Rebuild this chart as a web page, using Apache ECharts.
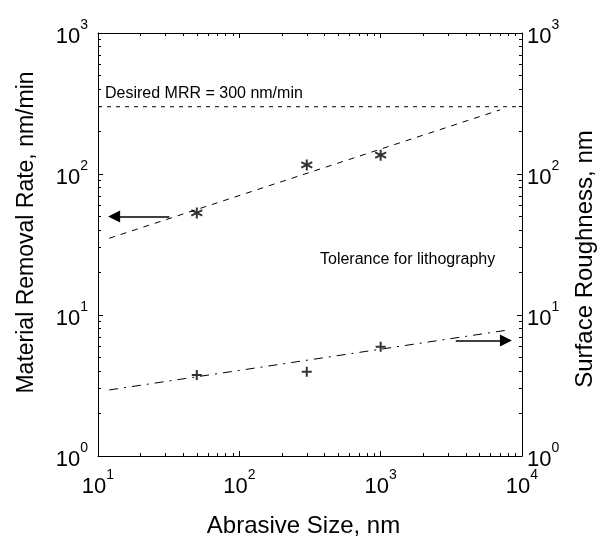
<!DOCTYPE html>
<html><head><meta charset="utf-8">
<script src="https://cdn.jsdelivr.net/npm/echarts@6/dist/echarts.min.js"></script>
<style>html,body{margin:0;padding:0;background:#fff}#c{width:605px;height:539px}</style>
</head><body><div id="c"></div>
<script>
// ---- data ----
const abrasiveSize = [50, 300, 1000];          // nm
const mrrValues = [53, 116, 136];              // nm/min (asterisks)
const roughnessValues = [3.75, 3.96, 5.96];    // nm (plus signs)
const mrrFitX = [12, 7000];
const mrrFitY = [35, 285];
const roughFitX = [12, 7800];
const roughFitY = [2.94, 7.8];
const desiredX = [10, 10000];
const desiredY = [300, 300];
const mrrArrowX = [32, 13];
const mrrArrowY = [50, 50];
const roughArrowX = [3400, 7700];
const roughArrowY = [6.6, 6.6];
const tickExponents = ['0', '1', '2', '3', '4'];
const xDecades = [10, 100, 1000];
const yDecades = [1, 10, 100];
const minorFactors = [2, 3, 4, 5, 6, 7, 8, 9];

const FONT = 'Arial, "Liberation Sans", sans-serif';
const pairs = (xs, ys) => xs.map((x, i) => [x, ys[i]]);
const minorOf = decs => decs.flatMap(d => minorFactors.map(f => d * f));
const xMinor = minorOf(xDecades);
const yMinor = minorOf(yDecades);

function expLabel(v) {
  const e = tickExponents[Math.round(Math.log10(v))];
  return '{b|10}{s|' + e + '}';
}
const rich = {
  b: { fontSize: 22, fontFamily: FONT, color: '#000', lineHeight: 30, verticalAlign: 'bottom' },
  s: { fontSize: 14, fontFamily: FONT, color: '#000', lineHeight: 30, verticalAlign: 'top' }
};
const baseAxis = {
  type: 'log', logBase: 10,
  axisLine: { show: true, lineStyle: { color: '#000', width: 1 } },
  axisTick: { show: true, inside: true, length: 5, lineStyle: { color: '#000' } },
  splitLine: { show: false },
  minorSplitLine: { show: false }
};
function minorAxis(min, max, position, values) {
  return {
    type: 'log', logBase: 10, min: min, max: max, position: position, offset: 0,
    axisLine: { show: false },
    axisLabel: { show: false },
    splitLine: { show: false },
    axisTick: { show: true, inside: true, length: 3, customValues: values, lineStyle: { color: '#000' } }
  };
}
const nameStyle = { fontSize: 24, fontFamily: FONT, color: '#000' };

const chart = echarts.init(document.getElementById('c'));
chart.setOption({
  backgroundColor: '#fff',
  animation: false,
  grid: { left: 98, right: 83, top: 33, bottom: 83, containLabel: false, outerBoundsMode: 'none' },
  xAxis: [
    Object.assign({}, baseAxis, {
      min: 10, max: 10000, position: 'bottom',
      axisLabel: { formatter: expLabel, rich: rich, margin: 12 },
      name: 'Abrasive Size, nm', nameLocation: 'middle', nameGap: 58,
      nameTextStyle: Object.assign({}, nameStyle, { padding: [0, 13, 0, 0] })
    }),
    Object.assign({}, baseAxis, {
      min: 10, max: 10000, position: 'top', axisLabel: { show: false }
    }),
    minorAxis(10, 10000, 'bottom', xMinor),
    minorAxis(10, 10000, 'top', xMinor)
  ],
  yAxis: [
    Object.assign({}, baseAxis, {
      min: 1, max: 1000, position: 'left',
      axisLabel: { formatter: expLabel, rich: rich, margin: 10 },
      name: 'Material Removal Rate, nm/min', nameLocation: 'middle', nameGap: 60,
      nameTextStyle: Object.assign({}, nameStyle, { fontSize: 23, padding: [0, 0, 0, 24] })
    }),
    Object.assign({}, baseAxis, {
      min: 1, max: 1000, position: 'right',
      axisLabel: { formatter: expLabel, rich: rich, margin: 5 },
      name: 'Surface Roughness, nm', nameLocation: 'middle', nameGap: 51,
      nameTextStyle: Object.assign({}, nameStyle, { padding: [0, 29, 0, 0] })
    }),
    minorAxis(1, 1000, 'left', yMinor),
    minorAxis(1, 1000, 'right', yMinor)
  ],
  series: [
    {
      name: 'Desired MRR', type: 'line', xAxisIndex: 0, yAxisIndex: 0,
      data: pairs(desiredX, desiredY), symbol: 'none',
      lineStyle: { color: '#000', width: 1, type: [4, 5] }
    },
    {
      name: 'MRR fit', type: 'line', xAxisIndex: 0, yAxisIndex: 0,
      data: pairs(mrrFitX, mrrFitY), symbol: 'none',
      lineStyle: { color: '#000', width: 1, type: [6, 6] }
    },
    {
      name: 'Roughness fit', type: 'line', xAxisIndex: 0, yAxisIndex: 1,
      data: pairs(roughFitX, roughFitY), symbol: 'none',
      lineStyle: { color: '#000', width: 1, type: [9, 6, 2, 6] }
    },
    {
      name: 'MRR', type: 'scatter', xAxisIndex: 0, yAxisIndex: 0,
      data: pairs(abrasiveSize, mrrValues),
      symbol: 'path://M0,-5L0,5M-4.33,-2.5L4.33,2.5M-4.33,2.5L4.33,-2.5',
      symbolSize: 11,
      itemStyle: { color: 'rgba(0,0,0,0)', borderColor: '#000', borderWidth: 2 }
    },
    {
      name: 'Roughness', type: 'scatter', xAxisIndex: 0, yAxisIndex: 1,
      data: pairs(abrasiveSize, roughnessValues),
      symbol: 'path://M0,-5L0,5M-5,0L5,0',
      symbolSize: 10,
      itemStyle: { color: 'rgba(0,0,0,0)', borderColor: '#000', borderWidth: 2 }
    },
    {
      name: 'MRR arrow', type: 'lines', coordinateSystem: 'cartesian2d',
      xAxisIndex: 0, yAxisIndex: 0,
      data: [{ coords: pairs(mrrArrowX, mrrArrowY) }],
      symbol: ['none', 'triangle'], symbolSize: [9, 12],
      lineStyle: { color: '#000', width: 1.5, opacity: 1 }
    },
    {
      name: 'Roughness arrow', type: 'lines', coordinateSystem: 'cartesian2d',
      xAxisIndex: 0, yAxisIndex: 1,
      data: [{ coords: pairs(roughArrowX, roughArrowY) }],
      symbol: ['none', 'triangle'], symbolSize: [9, 12],
      lineStyle: { color: '#000', width: 1.5, opacity: 1 }
    }
  ],
  graphic: [
    { type: 'text', left: 105, top: 86,
      style: { text: 'Desired MRR = 300 nm/min', font: '16px ' + FONT, fill: '#000' } },
    { type: 'text', left: 320, top: 252,
      style: { text: 'Tolerance for lithography', font: '16px ' + FONT, fill: '#000' } }
  ]
});
</script></body></html>
